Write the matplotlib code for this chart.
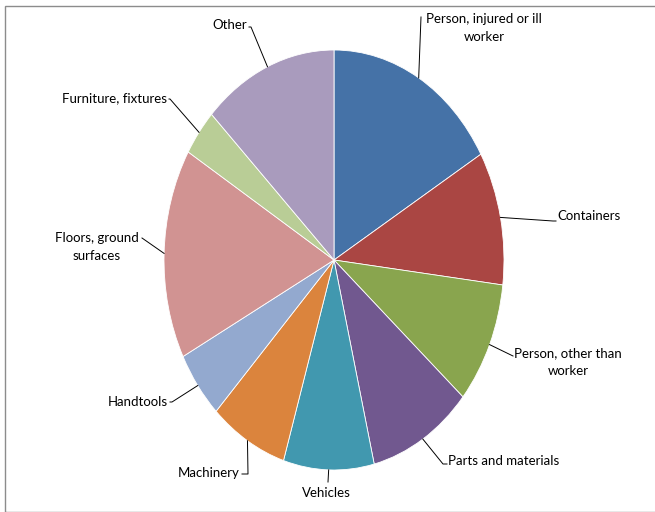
import numpy as np
import matplotlib
matplotlib.use("Agg")
import matplotlib.pyplot as plt
from matplotlib.patches import Rectangle

# share of cases by source (percent), clockwise from 12 o'clock
labels = ["Person, injured or ill\nworker", "Containers", "Person, other than\nworker",
          "Parts and materials", "Vehicles", "Machinery", "Handtools",
          "Floors, ground\nsurfaces", "Furniture, fixtures", "Other"]
shares = [16.6, 10.3, 9.4, 9.9, 8.6, 7.4, 5.2, 16.2, 3.6, 12.8]
colors = ["#4572A7", "#AA4643", "#89A54E", "#71588F", "#4198AF",
          "#DB843D", "#93A9CF", "#D19392", "#B9CD96", "#A99BBD"]

W, H = 655, 512
cx, cy, rx, ry = 334, 260, 170, 210   # pie centre / radii in pixels

def to_data(px, py):
    return (px - cx) / rx, (cy - py) / ry

fig = plt.figure(figsize=(W / 100, H / 100), dpi=100)
ax = fig.add_axes([0, 0, 1, 1])
ax.axis("off")

wedges, _ = ax.pie(shares, colors=colors, startangle=90, counterclock=False,
                   wedgeprops=dict(edgecolor="white", linewidth=0.6))
ax.set_xlim(to_data(0, 0)[0], to_data(W, 0)[0])
ax.set_ylim(to_data(0, H)[1], to_data(0, 0)[1])
ax.set_aspect("auto")

# label layout: elbow point, text anchor (pixels), alignment
layout = [
    ((421, 17), (484, 28), "center"),
    ((553, 221), (557, 216), "left"),
    ((513, 356), (568, 362), "center"),
    ((443, 464), (448, 461), "left"),
    ((328, 482), (326, 493), "center"),
    ((248, 474), (240, 473), "right"),
    ((172, 402), (168, 402), "right"),
    ((142, 238), (97, 247), "center"),
    ((170, 99), (167, 98), "right"),
    ((251, 27), (247, 25), "right"),
]
font = ["Lato", "DejaVu Sans"]

for w, lab, (elb, txt, ha) in zip(wedges, labels, layout):
    mid = np.deg2rad((w.theta1 + w.theta2) / 2)
    x0, y0 = np.cos(mid), np.sin(mid)
    ex, ey = to_data(*elb)
    pts = [(x0, y0), (ex, ey)]
    if ha == "left":
        pts.append(to_data(txt[0] - 1, elb[1]))
    elif ha == "right":
        pts.append(to_data(txt[0] + 2, elb[1]))
    xs, ys = zip(*pts)
    ax.plot(xs, ys, color="black", lw=0.7)
    tx, ty = to_data(*txt)
    ax.text(tx, ty, lab, ha=ha, va="center", multialignment="center",
            fontsize=9.5, family=font, linespacing=1.65)

# chart frame
fig.patches.append(Rectangle((5 / W, 0), 1.0, (H - 6) / H, transform=fig.transFigure,
                             fill=False, edgecolor="#8c8c8c", lw=1.0))

fig.savefig("out.png", dpi=100)
